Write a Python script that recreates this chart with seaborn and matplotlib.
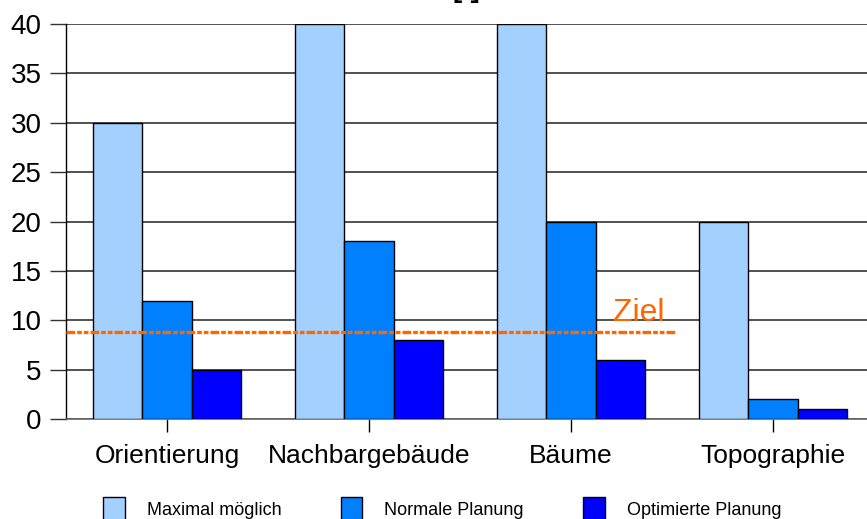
import pandas as pd
import numpy as np
import matplotlib.pyplot as plt
import seaborn as sns

# Daten
kategorien = ['Orientierung', 'Nachbargebäude', 'Bäume', 'Topographie']
maximal = [30, 40, 40, 20]
normal = [12, 18, 20, 2]
optimiert = [5, 8, 6, 1]
serien = ['Maximal möglich', 'Normale Planung', 'Optimierte Planung']
ziel = 8.8

df = pd.DataFrame({
    'Kategorie': kategorien * 3,
    'Wert': maximal + normal + optimiert,
    'Planung': np.repeat(serien, len(kategorien)),
})

sns.set_style('white')
plt.rcParams['font.family'] = ['Liberation Sans', 'DejaVu Sans']
plt.rcParams['text.color'] = 'black'
plt.rcParams['xtick.color'] = 'black'
plt.rcParams['ytick.color'] = 'black'

fig = plt.figure(figsize=(8.67, 5.19), dpi=100)
ax = fig.add_axes([66 / 867, 100 / 519, 808 / 867, 395 / 519])

farben = ['#A3D0FF', '#0080FF', '#0000FF']
sns.barplot(data=df, x='Kategorie', y='Wert', hue='Planung', palette=farben,
            width=0.73, edgecolor='black', linewidth=1, saturation=1,
            ax=ax, zorder=3)

# Zielwert
ax.plot([-0.5, 2.52], [ziel, ziel], color='#FF6600', lw=2.4,
        linestyle=(0, (2.6, 0.6, 1.4, 0.6, 1.4, 0.6)), zorder=4, clip_on=False)
ax.text(2.21, 9.9, 'Ziel', color='#FF6600', fontsize=23, zorder=5)

ax.set_xlim(-0.5, 3.5)
ax.set_ylim(0, 40)
ax.set_yticks(range(0, 41, 5))
ax.yaxis.grid(True, color='#333333', lw=1.2, zorder=0)
ax.set_axisbelow(True)
ax.set_xlabel('')
ax.set_ylabel('')
for s in ['top', 'right']:
    ax.spines[s].set_visible(False)
ax.spines['left'].set_color('black')
ax.spines['left'].set_linewidth(1)
ax.spines['bottom'].set_color('#666666')
ax.spines['bottom'].set_linewidth(1.2)
ax.tick_params(axis='y', left=True, length=11.5, width=1, color='#333333',
               pad=6, labelsize=20, labelcolor='black')
ax.tick_params(axis='x', bottom=True, length=9, width=1, color='black',
               pad=9, labelsize=19, labelcolor='black')

# Legende
handles, labels = ax.get_legend_handles_labels()
ax.legend_.remove()
fig.legend(handles, labels, ncol=3, loc='center', bbox_to_anchor=(0.51, 0.019),
           frameon=False, fontsize=13, handlelength=1.2, handleheight=1.7,
           handletextpad=1.2, columnspacing=3.3, borderpad=0)

# Titel (oben abgeschnitten)
fig.text(466 / 867, 1 + 3 / 519, '[-]', ha='center', va='baseline',
         fontsize=20, fontweight='bold')

fig.savefig('out.png', dpi=100)
